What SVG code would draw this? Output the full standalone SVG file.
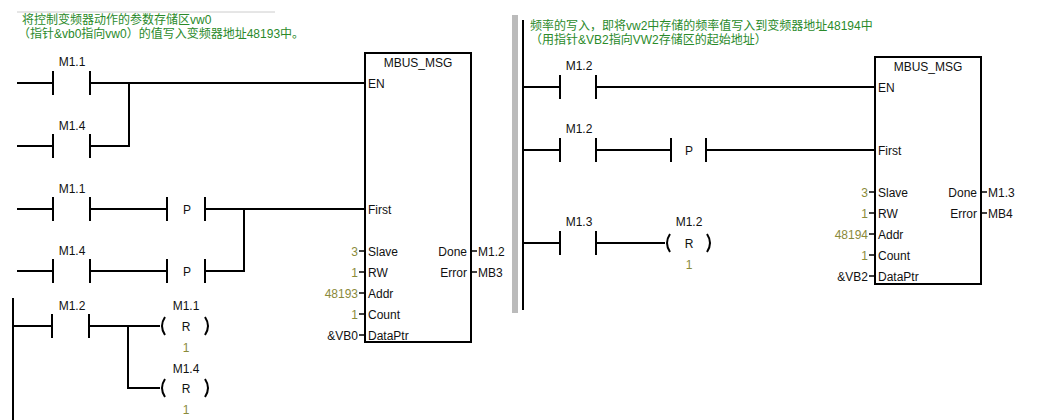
<svg xmlns="http://www.w3.org/2000/svg" width="1056" height="420" viewBox="0 0 1056 420">
<style>
text{font-family:"Liberation Sans",Arial,"Noto Sans CJK SC",sans-serif;font-size:12px;fill:#111}
.c{font-size:12px;fill:#2a8a2a}
.v{fill:#8a8a3a}
.m{text-anchor:middle}
.r{text-anchor:end}
line,path,polyline{stroke:#000;stroke-width:2;fill:none}
rect.b{fill:#fff;stroke:#000;stroke-width:2}
</style>
<rect width="1056" height="420" fill="#fff"/>
<line x1="17" y1="12" x2="275" y2="12" style="stroke:#ccc;stroke-width:1"/>
<rect x="512" y="15" width="6" height="298" fill="#bbb"/>
<g id="comments">
<text class="c" x="22" y="24">将控制变频器动作的参数存储区vw0</text>
<text class="c" x="18" y="38">（指针&amp;vb0指向vw0）的值写入变频器地址48193中。</text>
<text class="c" x="530" y="30">频率的写入，即将vw2中存储的频率值写入到变频器地址48194中</text>
<text class="c" x="530" y="44">（用指针&amp;VB2指向VW2存储区的起始地址）</text>
</g>
<g id="connectors">
<line x1="17" y1="83" x2="53" y2="83"/><line x1="90" y1="83" x2="365" y2="83"/>
<line x1="17" y1="146" x2="53" y2="146"/><polyline points="90,146 129,146 129,83"/>
<line x1="17" y1="209" x2="53" y2="209"/><line x1="90" y1="209" x2="167" y2="209"/><line x1="205" y1="209" x2="365" y2="209"/>
<line x1="17" y1="271" x2="53" y2="271"/><line x1="90" y1="271" x2="167" y2="271"/><polyline points="205,271 244,271 244,209"/>
<line x1="13" y1="298" x2="13" y2="420"/>
<line x1="13" y1="326" x2="52" y2="326"/><line x1="89" y1="326" x2="160" y2="326"/>
<polyline points="128,326 128,388 160,388"/>
<line x1="523" y1="20" x2="523" y2="310"/>
<line x1="523" y1="87" x2="560" y2="87"/><line x1="596" y1="87" x2="875" y2="87"/>
<line x1="523" y1="150" x2="560" y2="150"/><line x1="596" y1="150" x2="671" y2="150"/><line x1="706" y1="150" x2="875" y2="150"/>
<line x1="523" y1="243" x2="560" y2="243"/><line x1="596" y1="243" x2="665" y2="243"/>
</g>
<g id="contacts">
<path d="M53 71v24M90 71v24M53 134v24M90 134v24M53 197v24M90 197v24M53 259v24M90 259v24M52 314v24M89 314v24"/>
<path d="M167 197v24M205 197v24M167 259v24M205 259v24"/>
<path d="M560 75v24M596 75v24M560 138v24M596 138v24M560 231v24M596 231v24M671 138v24M706 138v24"/>
<text class="m" x="72" y="66">M1.1</text><text class="m" x="72" y="130">M1.4</text>
<text class="m" x="72" y="193">M1.1</text><text class="m" x="72" y="255">M1.4</text>
<text class="m" x="72" y="310">M1.2</text>
<text class="m" x="187" y="214">P</text><text class="m" x="187" y="276">P</text>
<text class="m" x="579" y="70">M1.2</text><text class="m" x="579" y="133">M1.2</text><text class="m" x="579" y="226">M1.3</text>
<text class="m" x="689" y="155">P</text>
</g>
<g id="coils">
<path d="M165 317q-6 9 0 18M205 317q6 9 0 18M165 379q-6 9 0 18M205 379q6 9 0 18M670 234q-6 9 0 18M707 234q6 9 0 18"/>
<text class="m" x="186" y="310">M1.1</text><text class="m" x="186" y="331">R</text><text class="m v" x="186" y="352">1</text>
<text class="m" x="186" y="373">M1.4</text><text class="m" x="186" y="393">R</text><text class="m v" x="186" y="414">1</text>
<text class="m" x="689" y="226">M1.2</text><text class="m" x="689" y="248">R</text><text class="m v" x="689" y="269">1</text>
</g>
<g id="box1">
<rect class="b" x="365" y="53" width="106" height="289"/>
<text class="m" x="418" y="67">MBUS_MSG</text>
<text x="368" y="88">EN</text><text x="368" y="214">First</text>
<text x="368" y="256">Slave</text><text x="368" y="277">RW</text><text x="368" y="298">Addr</text><text x="368" y="319">Count</text><text x="368" y="340">DataPtr</text>
<text class="r" x="467" y="256">Done</text><text class="r" x="467" y="277">Error</text>
<path d="M359 251h6M359 272h6M359 293h6M359 314h6M359 335h6M471 251h6M471 272h6" style="stroke-width:1.5"/>
<text class="r v" x="358" y="256">3</text><text class="r v" x="358" y="277">1</text><text class="r v" x="358" y="298">48193</text><text class="r v" x="358" y="319">1</text><text class="r" x="358" y="340">&amp;VB0</text>
<text x="478" y="256">M1.2</text><text x="478" y="277">MB3</text>
</g>
<g id="box2">
<rect class="b" x="875" y="57" width="106" height="227"/>
<text class="m" x="928" y="71">MBUS_MSG</text>
<text x="878" y="92">EN</text><text x="878" y="155">First</text>
<text x="878" y="197">Slave</text><text x="878" y="218">RW</text><text x="878" y="239">Addr</text><text x="878" y="260">Count</text><text x="878" y="281">DataPtr</text>
<text class="r" x="977" y="197">Done</text><text class="r" x="977" y="218">Error</text>
<path d="M869 192h6M869 213h6M869 234h6M869 255h6M869 276h6M981 192h6M981 213h6" style="stroke-width:1.5"/>
<text class="r v" x="868" y="197">3</text><text class="r v" x="868" y="218">1</text><text class="r v" x="868" y="239">48194</text><text class="r v" x="868" y="260">1</text><text class="r" x="868" y="281">&amp;VB2</text>
<text x="988" y="197">M1.3</text><text x="988" y="218">MB4</text>
</g>
</svg>
